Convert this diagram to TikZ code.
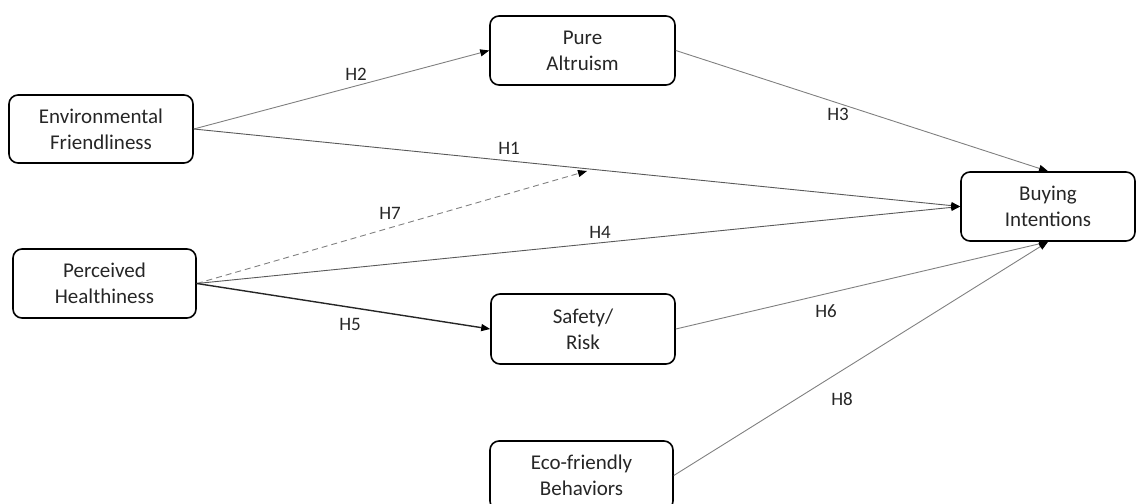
\documentclass[tikz,border=0pt]{standalone}
\usepackage{fontspec}
\setmainfont{Carlito}
\usetikzlibrary{arrows.meta}
\begin{document}
\begin{tikzpicture}[x=1pt,y=-1pt,
  box/.style={draw=black, line width=1.6pt, rounded corners=9pt, minimum width=184pt, minimum height=69pt, align=center, font=\fontsize{21}{26}\selectfont, text=black!85, inner sep=0pt},
  link/.style={draw=black!50, line width=0.9pt, -{Triangle[length=9pt,width=7pt,color=black]}},
  strong/.style={draw=black!85, line width=1.4pt, -{Triangle[length=9pt,width=7pt,color=black]}},
  lab/.style={font=\fontsize{19}{22}\selectfont, text=black!85, inner sep=0pt}]
\clip (0,0) rectangle (1137,503);
\node[box, minimum width=185pt] (pa) at (582.5,50.5) {Pure\\Altruism};
\node[box, minimum height=68pt] (ef) at (101,129) {Environmental\\Friendliness};
\node[box, minimum width=183pt] (ph) at (104.5,283.5) {Perceived\\Healthiness};
\node[box, minimum height=70pt] (sr) at (583,329) {Safety/\\Risk};
\node[box, minimum width=183pt] (eb) at (581.5,475.5) {Eco-friendly\\Behaviors};
\node[box, minimum width=174pt] (bi) at (1048,206.5) {Buying\\Intentions};
\coordinate (mid) at (587,171);
\draw[link] (ef.east) -- (pa.west);
\draw[link, draw=black!65] (ef.east) -- (bi.west);
\draw[link] (pa.east) -- (bi.north);
\draw[link, draw=black!65] (ph.east) -- (bi.west);
\draw[link, dash pattern=on 6pt off 4pt] (ph.east) -- (mid);
\draw[strong] (ph.east) -- (sr.west);
\draw[link] (sr.east) -- (bi.south);
\draw[link] (eb.east) -- (bi.south);
\node[lab] (h2) at (356,74) {H2};
\node[lab] (h1) at (509,148) {H1};
\node[lab] (h3) at (838,114) {H3};
\node[lab] (h7) at (390,213) {H7};
\node[lab] (h4) at (600,232) {H4};
\node[lab] (h5) at (350,324) {H5};
\node[lab] (h6) at (826,311) {H6};
\node[lab] (h8) at (842,399) {H8};
\end{tikzpicture}
\end{document}
